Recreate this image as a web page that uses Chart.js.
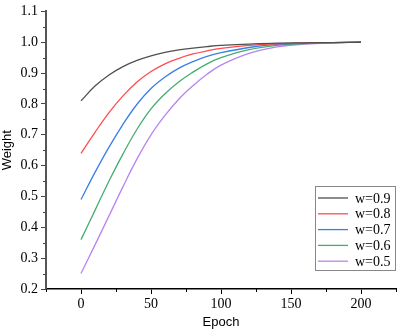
<!DOCTYPE html>
<html>
<head>
<meta charset="utf-8">
<script src="https://cdn.jsdelivr.net/npm/chart.js@4/dist/chart.umd.min.js"></script>
<style>
  html, body { margin: 0; padding: 0; background: #fff; }
  #wrap { width: 399px; height: 330px; }
</style>
</head>
<body>
<div id="wrap"><canvas id="line-chart" width="399" height="330"></canvas></div>
<script>
// values
const epochs = [0, 10, 20, 30, 40, 50, 60, 70, 80, 90, 100, 120, 140, 160, 180, 200];
const w09 = [0.81, 0.858, 0.894, 0.921, 0.941, 0.956, 0.967, 0.975, 0.981, 0.986, 0.990, 0.994, 0.997, 0.998, 0.999, 1.0];
const w08 = [0.64, 0.708, 0.772, 0.826, 0.871, 0.905, 0.930, 0.948, 0.962, 0.972, 0.980, 0.990, 0.995, 0.998, 0.999, 1.0];
const w07 = [0.49, 0.578, 0.660, 0.734, 0.799, 0.850, 0.887, 0.916, 0.937, 0.954, 0.966, 0.983, 0.993, 0.997, 0.999, 1.0];
const w06 = [0.36, 0.455, 0.55, 0.638, 0.718, 0.784, 0.833, 0.872, 0.903, 0.930, 0.950, 0.976, 0.990, 0.996, 0.999, 1.0];
const w05 = [0.25, 0.343, 0.437, 0.532, 0.622, 0.700, 0.763, 0.816, 0.859, 0.896, 0.926, 0.964, 0.985, 0.994, 0.998, 1.0];

const seriesNames = ["w=0.9", "w=0.8", "w=0.7", "w=0.6", "w=0.5"];
const seriesValues = [w09, w08, w07, w06, w05];
const colors = ["#505050", "#ff4d4d", "#3a7ee6", "#45ad6d", "#b784f0"];

const xTicks = [0, 50, 100, 150, 200];
const yTicks = [0.2, 0.3, 0.4, 0.5, 0.6, 0.7, 0.8, 0.9, 1.0, 1.1];

const tickFont = { family: "'Liberation Serif', 'DejaVu Serif', serif", size: 14 };

// minor ticks + boxed legend inside the plot
const extras = {
  id: 'extras',
  afterDraw(chart) {
    const ctx = chart.ctx;
    const xs = chart.scales.x, ys = chart.scales.y;
    ctx.save();
    ctx.strokeStyle = '#000';
    ctx.lineWidth = 1;
    for (let v = -25; v <= 225; v += 50) {
      const px = Math.round(xs.getPixelForValue(v)) + 0.5;
      ctx.beginPath(); ctx.moveTo(px, xs.top); ctx.lineTo(px, xs.top + 3); ctx.stroke();
    }
    ctx.strokeStyle = '#444';
    for (let v = 0.25; v < 1.1; v += 0.1) {
      const py = Math.round(ys.getPixelForValue(v)) + 0.5;
      ctx.beginPath(); ctx.moveTo(ys.right - 3, py); ctx.lineTo(ys.right, py); ctx.stroke();
    }

    // legend
    const bx = 315.5, by = 186.5, bw = 80, bh = 84;
    ctx.fillStyle = '#fff';
    ctx.fillRect(bx, by, bw, bh);
    ctx.strokeStyle = '#888';
    ctx.strokeRect(bx, by, bw, bh);
    ctx.font = "14px 'Liberation Serif', 'DejaVu Serif', serif";
    ctx.textBaseline = 'middle';
    chart.data.datasets.forEach((ds, i) => {
      const y = 198 + i * 15.8;
      ctx.strokeStyle = ds.borderColor;
      ctx.lineWidth = 1.3;
      ctx.beginPath(); ctx.moveTo(318, y); ctx.lineTo(348, y); ctx.stroke();
      ctx.fillStyle = '#000';
      ctx.fillText(ds.label, 355, y + 1);
    });
    ctx.restore();
  }
};

new Chart(document.getElementById("line-chart"), {
  type: 'line',
  data: {
    datasets: seriesNames.map((name, i) => ({
      label: name,
      data: epochs.map((e, j) => ({ x: e, y: seriesValues[i][j] })),
      borderColor: colors[i],
      borderWidth: 1.3,
      pointRadius: 0,
      fill: false,
      tension: 0.4
    }))
  },
  options: {
    responsive: false,
    animation: false,
    layout: { padding: { top: 7, right: 3, left: 0, bottom: 0 } },
    plugins: {
      legend: { display: false },
      tooltip: { enabled: false }
    },
    scales: {
      x: {
        type: 'linear',
        min: -25,
        max: 225,
        afterBuildTicks: (s) => { s.ticks = xTicks.map(v => ({ value: v })); },
        afterFit: (s) => { s.height = 41; },
        ticks: { font: tickFont, color: '#000', padding: 2, maxRotation: 0 },
        grid: { drawOnChartArea: false, drawTicks: true, tickLength: 5, tickColor: '#000' },
        border: { color: '#000', width: 1.5 },
        title: {
          display: true,
          text: 'Epoch',
          font: { family: "'Liberation Sans', Arial, sans-serif", size: 13 },
          color: '#000',
          padding: { top: 0, bottom: 0 }
        }
      },
      y: {
        min: 0.2,
        max: 1.1,
        afterBuildTicks: (s) => { s.ticks = yTicks.map(v => ({ value: v })); },
        afterFit: (s) => { s.width = 46; },
        ticks: {
          font: tickFont,
          color: '#000',
          padding: 3,
          callback: (v) => v.toFixed(1)
        },
        grid: { drawOnChartArea: false, drawTicks: true, tickLength: 5, tickColor: '#444' },
        border: { color: '#555', width: 2 },
        title: {
          display: true,
          text: 'Weight',
          font: { family: "'Liberation Sans', Arial, sans-serif", size: 13 },
          color: '#000',
          padding: { top: 0, bottom: 0 }
        }
      }
    }
  },
  plugins: [extras]
});
</script>
</body>
</html>
